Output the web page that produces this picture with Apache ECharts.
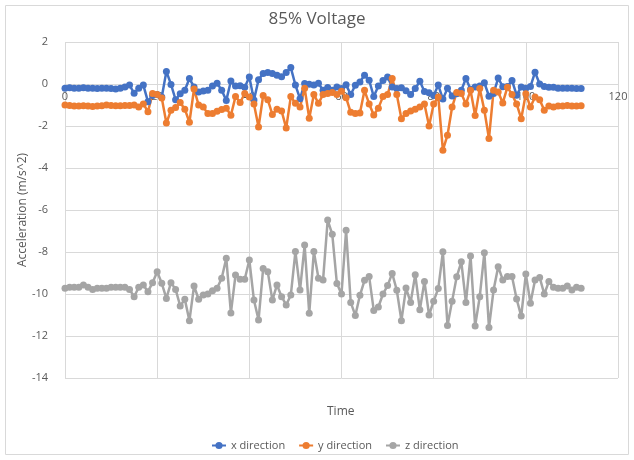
<!DOCTYPE html>
<html><head><meta charset="utf-8">
<script src="https://cdn.jsdelivr.net/npm/echarts@6/dist/echarts.min.js"></script>
<style>html,body{margin:0;padding:0;background:#fff}#c{width:634px;height:460px}</style>
</head><body><div id="c"></div>
<script>
const titleText = '85% Voltage';
const seriesNames = ['x direction', 'y direction', 'z direction'];
const time = [0,1,2,3,4,5,6,7,8,9,10,11,12,13,14,15,16,17,18,19,20,21,22,23,24,25,26,27,28,29,30,31,32,33,34,35,36,37,38,39,40,41,42,43,44,45,46,47,48,49,50,51,52,53,54,55,56,57,58,59,60,61,62,63,64,65,66,67,68,69,70,71,72,73,74,75,76,77,78,79,80,81,82,83,84,85,86,87,88,89,90,91,92,93,94,95,96,97,98,99,100,101,102,103,104,105,106,107,108,109,110,111,112];
const xDirection = [-0.2,-0.18,-0.2,-0.2,-0.18,-0.2,-0.2,-0.22,-0.2,-0.2,-0.22,-0.24,-0.2,-0.14,-0.05,-0.44,-0.2,-0.05,-0.84,-0.55,-0.5,-0.62,0.6,-0.02,-0.75,-0.46,-0.3,0.26,-0.14,-0.38,-0.33,-0.3,-0.1,0.04,-0.3,-0.78,0.14,-0.1,-0.08,-0.16,0.33,-0.76,0.2,0.5,0.55,0.5,0.42,0.35,0.55,0.78,-0.05,-0.7,0.02,-0.01,-0.05,0.03,-0.3,-0.17,-0.3,-0.14,-0.22,-0.04,-0.5,-0.06,0.1,0.42,0.18,-0.6,-0.1,0.17,0.33,-0.14,-0.22,-0.18,-0.32,-0.5,-0.22,0.13,-0.36,-0.42,-0.55,-0.05,-0.72,-0.2,-0.57,-0.46,-0.3,0.26,-0.25,-0.14,-0.1,0.06,-0.58,-0.45,0.28,-0.13,-0.12,0.17,-0.53,-0.14,-0.2,-0.12,0.56,0.0,-0.12,-0.15,-0.16,-0.2,-0.2,-0.2,-0.2,-0.21,-0.21];
const yDirection = [-1.0,-1.02,-1.05,-1.05,-1.03,-1.05,-1.07,-1.05,-1.03,-1.0,-1.02,-1.03,-1.03,-1.02,-1.02,-1.0,-1.1,-0.95,-1.32,-0.45,-0.5,-0.67,-1.86,-1.25,-1.12,-0.88,-1.2,-1.82,-0.24,-1.0,-1.1,-1.41,-1.4,-1.3,-1.22,-1.15,-1.49,-0.6,-0.88,-0.45,-0.62,-0.95,-2.05,-0.55,-0.75,-1.45,-1.2,-1.28,-2.1,-0.6,-0.92,-1.1,-0.2,-1.63,-0.5,-0.92,-0.5,-0.45,-0.4,-0.5,-0.35,-0.65,-1.35,-1.4,-1.38,-0.3,-0.95,-1.48,-1.15,-0.6,-0.5,0.26,-0.5,-1.65,-1.4,-1.28,-1.2,-1.1,-0.95,-2.0,-0.95,-0.62,-3.15,-2.44,-1.1,-0.4,-0.45,-0.95,-0.3,-1.5,-0.22,-1.25,-2.6,-0.3,-0.38,-0.9,-0.15,-0.5,-0.95,-1.65,-0.46,-1.1,-0.62,-0.75,-1.25,-1.05,-1.1,-1.05,-1.05,-1.02,-1.05,-1.05,-1.03];
const zDirection = [-9.73,-9.68,-9.68,-9.68,-9.57,-9.68,-9.78,-9.73,-9.73,-9.73,-9.68,-9.68,-9.68,-9.68,-9.78,-10.13,-9.68,-9.57,-9.89,-9.46,-8.94,-9.49,-10.21,-9.46,-9.78,-10.57,-10.25,-11.27,-9.62,-10.25,-10.05,-10.0,-9.84,-9.73,-9.25,-8.3,-10.9,-9.1,-9.3,-9.3,-8.38,-10.29,-11.24,-8.78,-8.94,-10.29,-9.57,-10.13,-10.52,-10.05,-7.98,-9.81,-7.67,-10.92,-7.98,-9.25,-9.33,-6.48,-7.16,-9.5,-10.0,-6.97,-10.4,-11.02,-10.06,-9.35,-9.17,-10.78,-10.62,-10.0,-9.6,-9.02,-9.82,-11.27,-9.72,-10.4,-9.08,-10.75,-9.4,-11.0,-10.34,-9.74,-7.99,-11.5,-10.34,-9.18,-8.47,-10.41,-8.19,-11.52,-10.13,-8.03,-11.6,-9.81,-8.7,-9.33,-9.17,-9.17,-10.24,-11.05,-9.05,-10.44,-9.33,-9.21,-10.0,-9.41,-9.68,-9.73,-9.73,-9.62,-9.81,-9.68,-9.73];
const xTicks = {min: 0, max: 120, interval: 20};
const yTicks = {min: -14, max: 2, interval: 2};
const colors = ['#4472C4', '#ED7D31', '#A5A5A5'];

const font = 'Open Sans';
const textColor = '#595959';
const gridTop = 42, gridBottom = 82, chartH = 460;
// place the horizontal axis where y = 0 crosses (Excel-style)
const plotH = chartH - gridTop - gridBottom;
const zeroOffset = -plotH * (0 - yTicks.min) / (yTicks.max - yTicks.min);
const chart = echarts.init(document.getElementById('c'), null, {renderer: 'canvas'});
function pairs(vals) { return vals.map((v, i) => [time[i], v]); }
const allSeries = [xDirection, yDirection, zDirection];
chart.setOption({
  animation: false,
  color: colors,
  title: {text: titleText, left: 'center', top: 6,
    textStyle: {fontFamily: font, fontSize: 17, fontWeight: 'normal', color: textColor}},
  grid: {left: 65, right: 16, top: gridTop, bottom: gridBottom},
  xAxis: {type: 'value', min: xTicks.min, max: xTicks.max, interval: xTicks.interval,
    position: 'bottom', offset: zeroOffset,
    axisLine: {show: true, onZero: false, lineStyle: {color: '#d9d9d9', width: 1}},
    axisTick: {show: false},
    axisLabel: {color: textColor, fontFamily: font, fontSize: 11, margin: 7},
    splitLine: {show: true, lineStyle: {color: '#d9d9d9', width: 1}}},
  yAxis: {type: 'value', min: yTicks.min, max: yTicks.max, interval: yTicks.interval,
    name: 'Acceleration (m/s^2)', nameLocation: 'middle', nameGap: 36, nameMoveOverlap: false,
    nameTextStyle: {color: textColor, fontFamily: font, fontSize: 12},
    axisLine: {show: false, onZero: false}, axisTick: {show: false},
    axisLabel: {color: textColor, fontFamily: font, fontSize: 11, margin: 17},
    splitLine: {show: true, lineStyle: {color: '#d9d9d9', width: 1}}},
  legend: {left: 206, top: 435, itemWidth: 14, itemHeight: 9, itemGap: 13,
    textStyle: {color: textColor, fontFamily: font, fontSize: 11},
    data: seriesNames},
  graphic: [
    {type: 'rect', shape: {x: 5.5, y: 5.5, width: 623, height: 449}, style: {fill: 'none', stroke: '#d9d9d9', lineWidth: 1}, silent: true},
    {type: 'text', left: 327, top: 406, style: {text: 'Time', fill: textColor, font: '12px "Open Sans"'}}
  ],
  series: allSeries.map((vals, k) => ({
    name: seriesNames[k], type: 'line', data: pairs(vals),
    symbol: 'circle', symbolSize: 7, showSymbol: true,
    lineStyle: {width: 2.5, color: colors[k]},
    itemStyle: {color: colors[k]}
  }))
});
</script></body></html>
